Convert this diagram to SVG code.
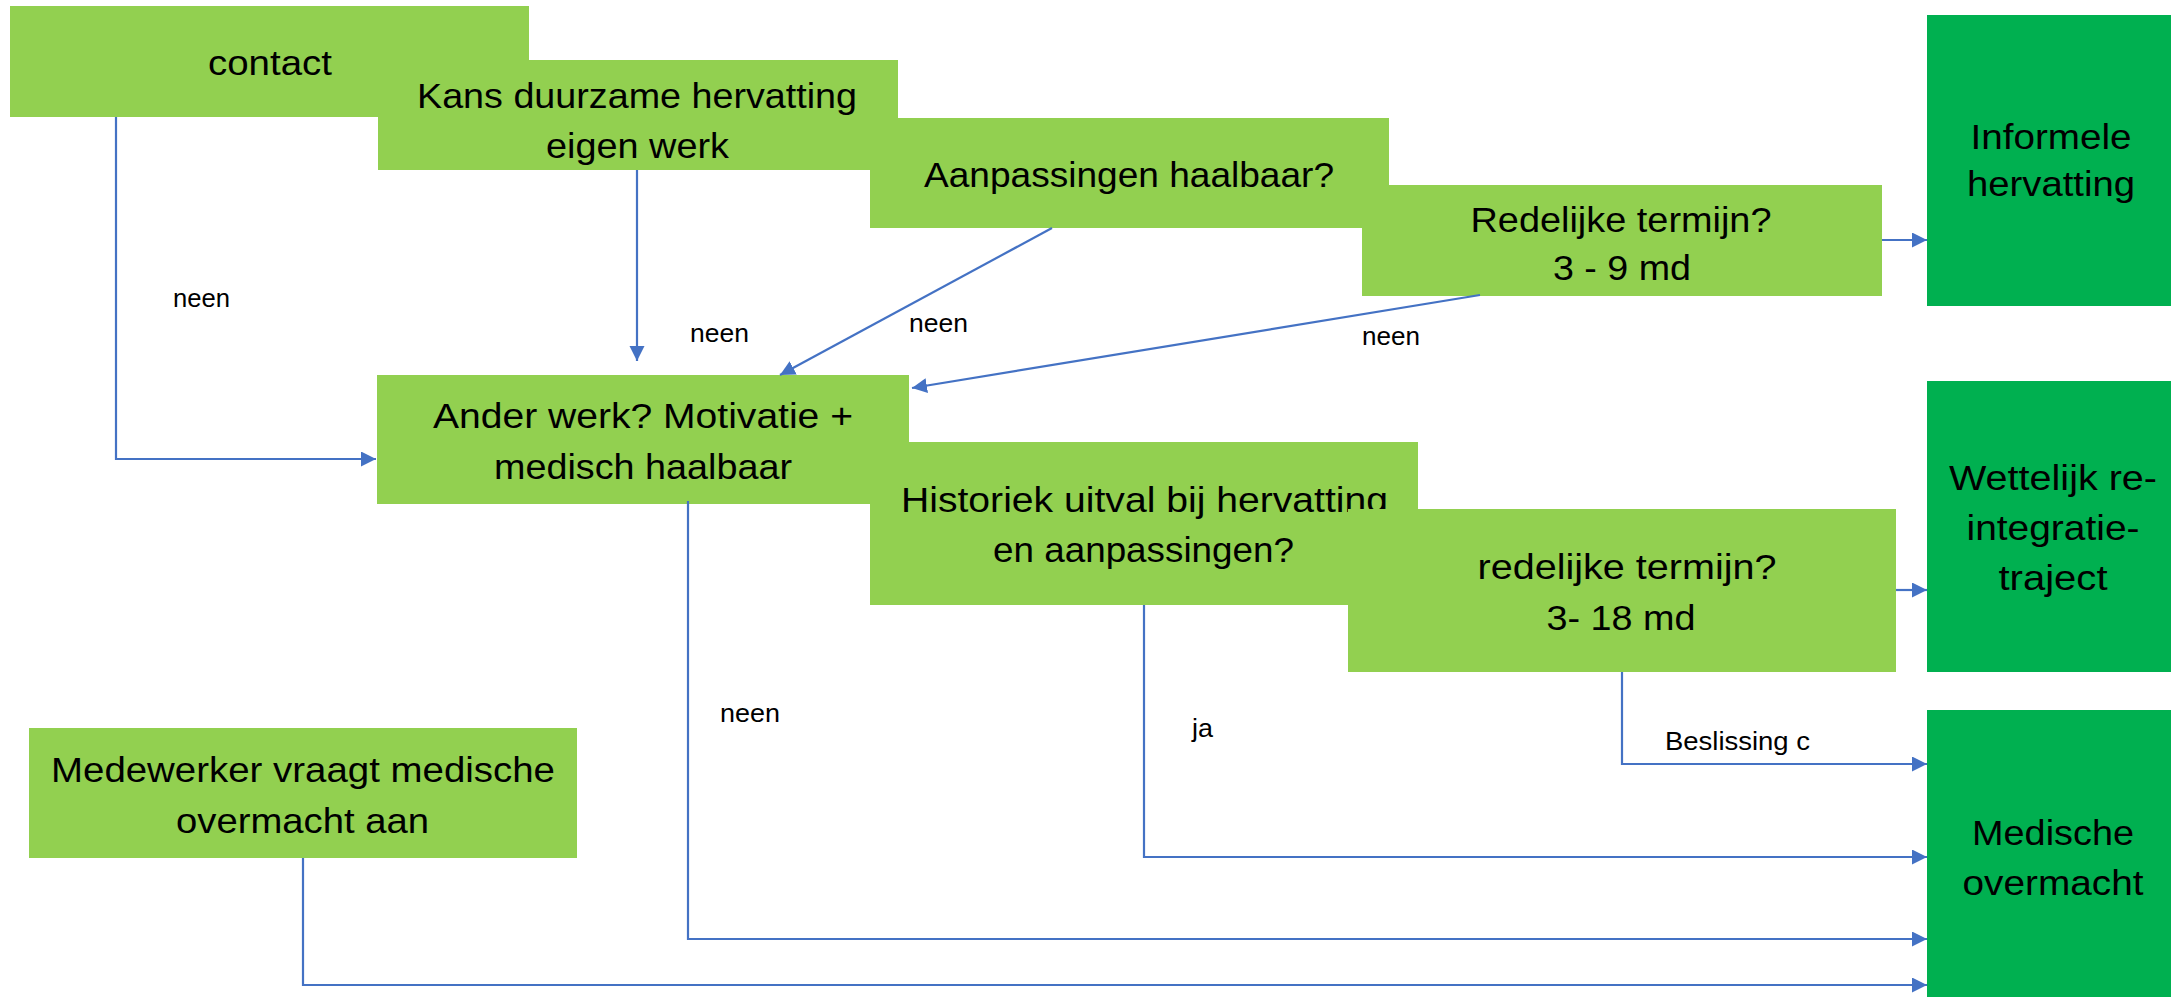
<svg xmlns="http://www.w3.org/2000/svg" width="2171" height="997" viewBox="0 0 2171 997">
<style>
.lg{fill:#92D050}
.dg{fill:#00B050}
.t{font-family:"Liberation Sans",Arial,sans-serif;font-size:35px;fill:#000;text-anchor:middle}
.l{font-family:"Liberation Sans",Arial,sans-serif;font-size:26px;fill:#000}
.c{fill:none;stroke:#4472C4;stroke-width:2.2;marker-end:url(#ah)}
</style>
<defs>
<marker id="ah" markerUnits="userSpaceOnUse" markerWidth="16" markerHeight="16" refX="15" refY="7.5" orient="auto">
<path d="M0,0 L15,7.5 L0,15 z" fill="#4472C4"/>
</marker>
</defs>
<rect width="2171" height="997" fill="#fff"/>
<g id="contact"><rect class="lg" x="10" y="6" width="519" height="111"/><text class="t" x="270" y="75" textLength="124" lengthAdjust="spacingAndGlyphs">contact</text></g>
<g id="kans"><rect class="lg" x="378" y="60" width="520" height="110"/><text class="t" x="637" y="108" textLength="440" lengthAdjust="spacingAndGlyphs">Kans duurzame hervatting</text><text class="t" x="637.5" y="158" textLength="183" lengthAdjust="spacingAndGlyphs">eigen werk</text></g>
<g id="aanpassingen"><rect class="lg" x="870" y="118" width="519" height="110"/><text class="t" x="1129" y="187" textLength="410" lengthAdjust="spacingAndGlyphs">Aanpassingen haalbaar?</text></g>
<g id="redelijk1"><rect class="lg" x="1362" y="185" width="520" height="111"/><text class="t" x="1621" y="232" textLength="301" lengthAdjust="spacingAndGlyphs">Redelijke termijn?</text><text class="t" x="1622" y="280" textLength="138" lengthAdjust="spacingAndGlyphs">3 - 9 md</text></g>
<g id="informele"><rect class="dg" x="1927" y="15" width="244" height="291"/><text class="t" x="2051" y="149" textLength="161" lengthAdjust="spacingAndGlyphs">Informele</text><text class="t" x="2051" y="196" textLength="168" lengthAdjust="spacingAndGlyphs">hervatting</text></g>
<g id="anderwerk"><rect class="lg" x="377" y="375" width="532" height="129"/><text class="t" x="643" y="428" textLength="420" lengthAdjust="spacingAndGlyphs">Ander werk? Motivatie +</text><text class="t" x="643" y="479" textLength="298" lengthAdjust="spacingAndGlyphs">medisch haalbaar</text></g>
<g id="historiek"><rect class="lg" x="870" y="442" width="548" height="163"/><text class="t" x="1144.5" y="512" textLength="487" lengthAdjust="spacingAndGlyphs">Historiek uitval bij hervatting</text><text class="t" x="1143.5" y="562" textLength="301" lengthAdjust="spacingAndGlyphs">en aanpassingen?</text></g>
<g id="redelijk2"><rect class="lg" x="1348" y="509" width="548" height="163"/><text class="t" x="1627" y="579" textLength="299" lengthAdjust="spacingAndGlyphs">redelijke termijn?</text><text class="t" x="1621" y="630" textLength="149" lengthAdjust="spacingAndGlyphs">3- 18 md</text></g>
<g id="wettelijk"><rect class="dg" x="1927" y="381" width="244" height="291"/><text class="t" x="2053" y="490" textLength="208" lengthAdjust="spacingAndGlyphs">Wettelijk re-</text><text class="t" x="2053" y="540" textLength="173" lengthAdjust="spacingAndGlyphs">integratie-</text><text class="t" x="2053" y="590" textLength="109" lengthAdjust="spacingAndGlyphs">traject</text></g>
<g id="medewerker"><rect class="lg" x="29" y="728" width="548" height="130"/><text class="t" x="303" y="782" textLength="504" lengthAdjust="spacingAndGlyphs">Medewerker vraagt medische</text><text class="t" x="302.5" y="833" textLength="253" lengthAdjust="spacingAndGlyphs">overmacht aan</text></g>
<g id="medische"><rect class="dg" x="1927" y="710" width="244" height="287"/><text class="t" x="2053" y="845" textLength="162" lengthAdjust="spacingAndGlyphs">Medische</text><text class="t" x="2053" y="895" textLength="181" lengthAdjust="spacingAndGlyphs">overmacht</text></g>
<g id="connectors">
<path class="c" d="M116,117 V459 H376"/>
<path class="c" d="M637,170 V361"/>
<path class="c" d="M1052,228 L780,375"/>
<path class="c" d="M1480,295 L912,388"/>
<path class="c" d="M1882,240 H1927"/>
<path class="c" d="M1896,590 H1927"/>
<path class="c" d="M688,501 V939 H1927"/>
<path class="c" d="M1144,605 V857 H1927"/>
<path class="c" d="M1622,672 V764 H1927"/>
<path class="c" d="M303,858 V985 H1927"/>
<text class="l" x="173" y="307" textLength="57" lengthAdjust="spacingAndGlyphs">neen</text>
<text class="l" x="690" y="342" textLength="59" lengthAdjust="spacingAndGlyphs">neen</text>
<text class="l" x="909" y="332" textLength="59" lengthAdjust="spacingAndGlyphs">neen</text>
<text class="l" x="1362" y="345" textLength="58" lengthAdjust="spacingAndGlyphs">neen</text>
<text class="l" x="720" y="722" textLength="60" lengthAdjust="spacingAndGlyphs">neen</text>
<text class="l" x="1192" y="737" textLength="21" lengthAdjust="spacingAndGlyphs">ja</text>
<text class="l" x="1665" y="750" textLength="145" lengthAdjust="spacingAndGlyphs">Beslissing c</text>
</g>
</svg>
